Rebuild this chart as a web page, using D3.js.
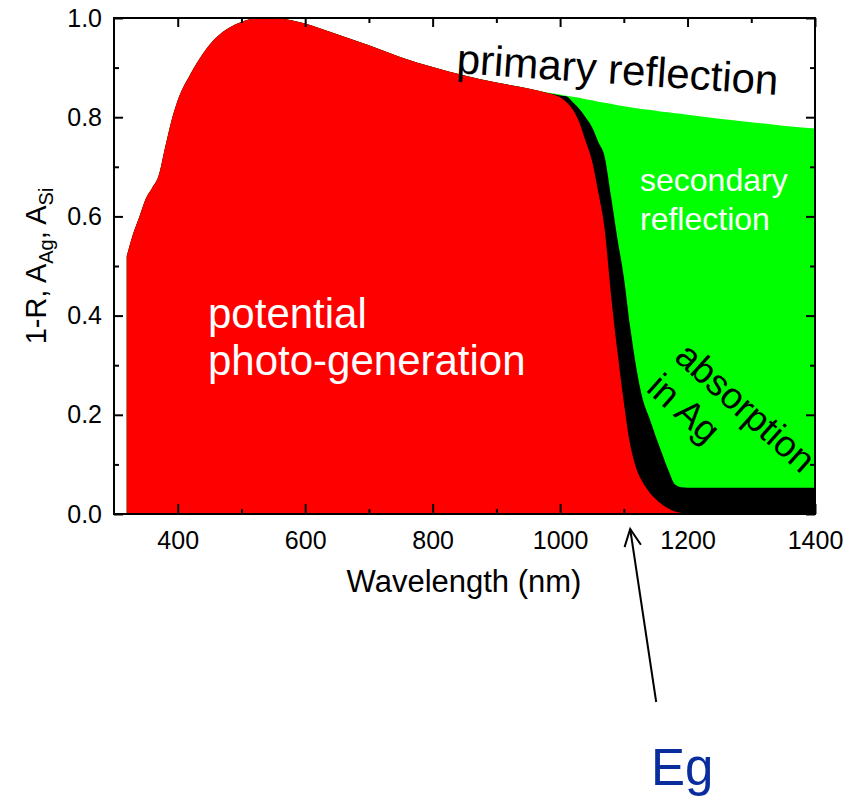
<!DOCTYPE html>
<html>
<head>
<meta charset="utf-8">
<script src="https://cdn.jsdelivr.net/npm/d3@7"></script>
<style>
  html, body { margin: 0; padding: 0; background: #fff; }
  svg { display: block; }
  text { font-family: "Liberation Sans", Arial, sans-serif; }
</style>
</head>
<body>
<svg id="chart" width="853" height="797"></svg>
<script>
// ---- data ----
const wavelength = [320,330,340,350,360,370,380,390,400,420,440,460,480,500,520,540,560,580,600,650,700,750,800,850,900,950,980,
  1000,1010,1020,1030,1040,1050,1060,1070,1080,1090,1100,1110,1120,1130,1140,1150,1160,1170,1180,1190,1200,1250,1300,1350,1400];
// total absorption 1-R (top of green)
const oneMinusR = [0.520,0.565,0.600,0.636,0.658,0.682,0.738,0.792,0.834,0.887,0.929,0.960,0.980,0.992,0.999,1.000,0.999,0.995,0.989,0.967,0.945,0.921,0.901,0.884,0.870,0.858,0.850,
  0.846,0.843,0.841,0.839,0.836,0.834,0.831,0.829,0.827,0.824,0.822,0.820,0.818,0.816,0.815,0.813,0.811,0.810,0.808,0.807,0.805,0.797,0.790,0.783,0.777];
// absorption in Si (red)
const absSi = [0.520,0.565,0.600,0.636,0.658,0.682,0.738,0.792,0.834,0.887,0.929,0.960,0.980,0.992,0.999,1.000,0.999,0.995,0.989,0.967,0.945,0.921,0.901,0.884,0.870,0.858,0.849,
  0.840,0.830,0.815,0.790,0.752,0.712,0.648,0.573,0.440,0.327,0.225,0.140,0.090,0.063,0.044,0.030,0.019,0.011,0.005,0.002,0.000,0.000,0.000,0.000,0.000];
// absorption in Ag (black)
const absAg = [0,0,0,0,0,0,0,0,0,0,0,0,0,0,0,0,0,0,0,0,0,0,0,0,0,0,0.000,
  0.004,0.012,0.015,0.027,0.048,0.068,0.102,0.147,0.200,0.228,0.253,0.237,0.202,0.167,0.150,0.127,0.103,0.077,0.055,0.052,0.053,0.053,0.053,0.053,0.053];

const xMajor = [400,600,800,1000,1200,1400];
const xMinor = [500,700,900,1100,1300];
const yMajor = [0.0,0.2,0.4,0.6,0.8,1.0];
const yMinor = [0.1,0.3,0.5,0.7,0.9];
const egWavelength = 1110;

(function(){
// ---- layout ----
const svg = d3.select("#chart");
const x = d3.scaleLinear().domain([300,1400]).range([114,815]);
const y = d3.scaleLinear().domain([0,1]).range([514,18]);

const rows = wavelength.map((w,i)=>({w, top:oneMinusR[i], si:absSi[i], siag:absSi[i]+absAg[i]}));

const area = key => d3.area().x(d=>x(d.w)).y0(y(0)).y1(d=>y(d[key])).curve(d3.curveMonotoneX);

svg.append("path").datum(rows).attr("d", area("top")).attr("fill","#00ff00");
svg.append("path").datum(rows).attr("d", area("siag")).attr("fill","#000000");
svg.append("path").datum(rows).attr("d", area("si")).attr("fill","#ff0000");

// ---- axes ----
const fontTick = 25;
function styleAxis(g){
  g.select(".domain").remove();
  g.selectAll("line").attr("stroke","#000").attr("stroke-width",2);
  g.selectAll("text").attr("font-size",fontTick).attr("fill","#000").attr("font-family",'"Liberation Sans", Arial, sans-serif');
}
function addAxis(axis, tx, ty){
  const g = svg.append("g").attr("transform",`translate(${tx},${ty})`).call(axis);
  styleAxis(g);
  return g;
}
const gBottom = addAxis(d3.axisBottom(x).tickValues(xMajor).tickSizeInner(-10).tickSizeOuter(0).tickPadding(17).tickFormat(d3.format("d")), 0, y(0));
gBottom.selectAll("text").attr("dy","0.71em");
addAxis(d3.axisBottom(x).tickValues(xMinor).tickSizeInner(-5).tickSizeOuter(0).tickFormat(""), 0, y(0));
addAxis(d3.axisTop(x).tickValues(xMajor).tickSizeInner(-9).tickSizeOuter(0).tickFormat(""), 0, y(1));
addAxis(d3.axisTop(x).tickValues(xMinor).tickSizeInner(-5).tickSizeOuter(0).tickFormat(""), 0, y(1));
addAxis(d3.axisLeft(y).tickValues(yMajor).tickSizeInner(-9).tickSizeOuter(0).tickPadding(12).tickFormat(d3.format(".1f")), x(300), 0);
addAxis(d3.axisLeft(y).tickValues(yMinor).tickSizeInner(-5).tickSizeOuter(0).tickFormat(""), x(300), 0);
addAxis(d3.axisRight(y).tickValues(yMajor).tickSizeInner(-9).tickSizeOuter(0).tickFormat(""), x(1400), 0);
addAxis(d3.axisRight(y).tickValues(yMinor).tickSizeInner(-5).tickSizeOuter(0).tickFormat(""), x(1400), 0);

// frame
svg.append("rect").attr("x",x(300)).attr("y",y(1)).attr("width",x(1400)-x(300)).attr("height",y(0)-y(1))
  .attr("fill","none").attr("stroke","#000").attr("stroke-width",2);

// axis titles
svg.append("text").attr("x",464).attr("y",592).attr("text-anchor","middle")
  .attr("font-size",31).text("Wavelength (nm)");

const yl = svg.append("text").attr("transform",`translate(46,${(y(0)+y(1))/2}) rotate(-90)`)
  .attr("text-anchor","middle").attr("font-size",29);
yl.append("tspan").text("1-R, A");
yl.append("tspan").attr("font-size",20).attr("dy",7).text("Ag");
yl.append("tspan").attr("dy",-7).text(", A");
yl.append("tspan").attr("font-size",20).attr("dy",7).text("Si");

// ---- annotations ----
svg.append("text").attr("transform","translate(456,73) rotate(3.9)")
  .attr("font-size",42).attr("fill","#000").text("primary reflection");

const pg = svg.append("text").attr("font-size",42).attr("fill","#fff");
pg.append("tspan").attr("x",208).attr("y",328).text("potential");
pg.append("tspan").attr("x",208).attr("y",375).text("photo-generation");

const sr = svg.append("text").attr("font-size",32).attr("fill","#fff");
sr.append("tspan").attr("x",640).attr("y",191).text("secondary");
sr.append("tspan").attr("x",640).attr("y",230).text("reflection");

const ag = svg.append("text").attr("transform","translate(673,359) rotate(42)")
  .attr("font-size",37).attr("fill","#000");
ag.append("tspan").attr("x",0).attr("y",0).text("absorption");
ag.append("tspan").attr("x",0).attr("y",42).text("in Ag");

// Eg arrow
const tipX = x(egWavelength), tipY = 529;
const tailX = tipX + 26, tailY = 702;
svg.append("line").attr("x1",tailX).attr("y1",tailY).attr("x2",tipX).attr("y2",tipY)
  .attr("stroke","#000").attr("stroke-width",2);
const ang = Math.atan2(tailY-tipY, tailX-tipX);
const headLen = 19, headHalf = 0.45;
const hp = s => [tipX + headLen*Math.cos(ang + s*headHalf), tipY + headLen*Math.sin(ang + s*headHalf)];
const h1 = hp(1), h2 = hp(-1);
svg.append("path").attr("d",`M${h1[0]},${h1[1]}L${tipX},${tipY}L${h2[0]},${h2[1]}`)
  .attr("fill","none").attr("stroke","#000").attr("stroke-width",2);

svg.append("text").attr("x",651).attr("y",785).attr("font-size",51).attr("fill","#0a2d9e").text("Eg");
})();
</script>
</body>
</html>
